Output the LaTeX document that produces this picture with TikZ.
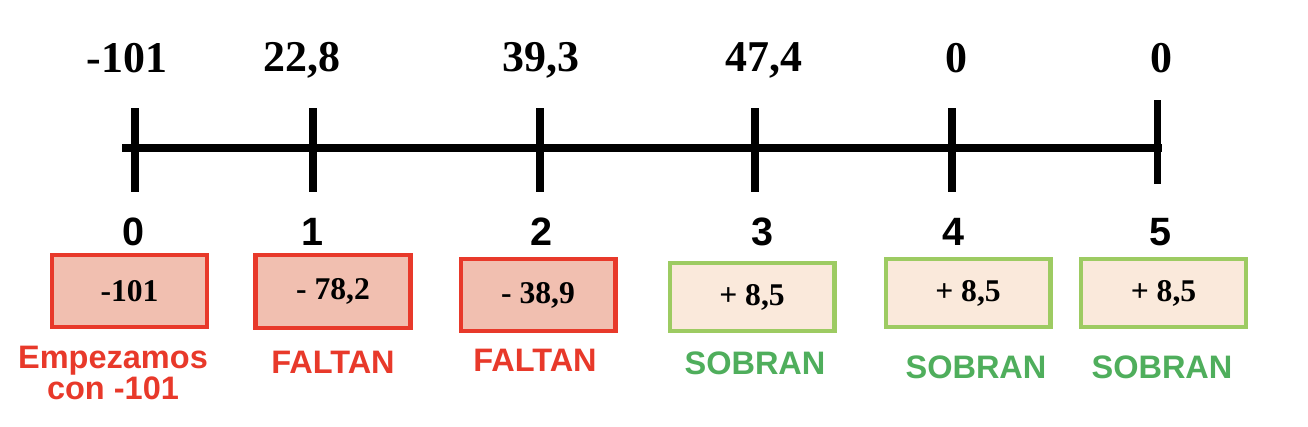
\documentclass[tikz,border=0pt]{standalone}
\usepackage{fontspec}
\setmainfont{Liberation Serif}
\setsansfont{Liberation Sans}
\definecolor{rojo}{HTML}{E8392A}
\definecolor{rojofondo}{HTML}{F1BFB0}
\definecolor{verde}{HTML}{9DCB62}
\definecolor{verdefondo}{HTML}{FAE9DB}
\definecolor{verdetexto}{HTML}{4FAE5C}

\begin{document}
\begin{tikzpicture}[x=0.02cm, y=-0.02cm,
	valor/.style={font=\fontsize{25}{30}\selectfont\bfseries},
	indice/.style={font=\sffamily\fontsize{22.5}{27}\selectfont\bfseries},
	falta/.style={draw=rojo, fill=rojofondo, line width=2.3pt, minimum width=3.1cm, minimum height=1.45cm, font=\fontsize{18}{21}\selectfont\bfseries},
	sobra/.style={draw=verde, fill=verdefondo, line width=2.3pt, minimum width=3.3cm, minimum height=1.36cm, font=\fontsize{18}{21}\selectfont\bfseries},
	nota/.style={font=\sffamily\fontsize{18.5}{18}\selectfont\bfseries, align=center}]
	\useasboundingbox (0,0) rectangle (1308,426);
	% recta
	\coordinate (izq) at (122,148);
	\coordinate (der) at (1162,148);
	\draw[line width=4pt] (izq) -- (der);
	\coordinate (a0) at (135,108); \coordinate (b0) at (135,192);
	\coordinate (a1) at (313,108); \coordinate (b1) at (313,192);
	\coordinate (a2) at (540,108); \coordinate (b2) at (540,192);
	\coordinate (a3) at (755,108); \coordinate (b3) at (755,192);
	\coordinate (a4) at (952,108); \coordinate (b4) at (952,192);
	\coordinate (a5) at (1157,100); \coordinate (b5) at (1157,184);
	\draw[line width=4pt] (a0) -- (b0);
	\draw[line width=4pt] (a1) -- (b1);
	\draw[line width=4pt] (a2) -- (b2);
	\draw[line width=4pt] (a3) -- (b3);
	\draw[line width=4pt] (a4) -- (b4);
	\draw[line width=4pt] (a5) -- (b5);
	% valores arriba
	\node[valor] (v0) at (127,58) {-101};
	\node[valor] (v1) at (302,60) {22,8};
	\node[valor] (v2) at (541,60) {39,3};
	\node[valor] (v3) at (764,60) {47,4};
	\node[valor] (v4) at (956,58) {0};
	\node[valor] (v5) at (1161,58) {0};
	% periodos
	\node[indice] (n0) at (133,232) {0};
	\node[indice] (n1) at (312,232) {1};
	\node[indice] (n2) at (541,232) {2};
	\node[indice] (n3) at (762,232) {3};
	\node[indice] (n4) at (953,232) {4};
	\node[indice] (n5) at (1160,232) {5};
	% cajas
	\node[falta] (c0) at (129.5,291) {-101};
	\node[falta] (c1) at (333,291.5) {- 78,2};
	\node[falta] (c2) at (538,295) {- 38,9};
	\node[sobra] (c3) at (752,297) {+ 8,5};
	\node[sobra] (c4) at (968,293) {+ 8,5};
	\node[sobra] (c5) at (1163.5,293) {+ 8,5};
	% notas
	\node[nota, rojo] (e0) at (113,373) {Empezamos\\con -101};
	\node[nota, rojo] (e1) at (333,362) {FALTAN};
	\node[nota, rojo] (e2) at (535,360) {FALTAN};
	\node[nota, verdetexto] (e3) at (755,363) {SOBRAN};
	\node[nota, verdetexto] (e4) at (976,367) {SOBRAN};
	\node[nota, verdetexto] (e5) at (1162,367) {SOBRAN};
\end{tikzpicture}
\end{document}
